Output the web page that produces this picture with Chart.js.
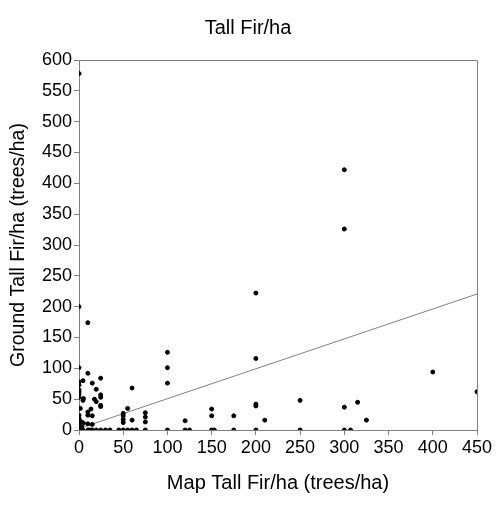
<!DOCTYPE html>
<html>
<head>
<meta charset="utf-8">
<script src="https://cdn.jsdelivr.net/npm/chart.js@4.4.0/dist/chart.umd.min.js"></script>
<style>
  html, body { margin: 0; padding: 0; background: #fff; }
  #wrap { width: 496px; height: 505px; }
</style>
</head>
<body>
<div id="wrap"><canvas id="scatter-chart"></canvas></div>
<script>
// map value (x) and ground value (y) for each plot
var mapValues = [
    0, 0, 0, 0, 0, 0, 0, 0, 0, 0, 0, 0, 0, 0, 0, 0,
    1.5, 3, 3, 4.5, 4.5, 4.5, 5, 5,
    10, 10, 10, 10, 10, 10, 12, 13.5,
    15, 15, 15, 15, 17.5, 19.5, 19.5, 19.5,
    24.5, 24.5, 24.5, 24.5, 24.5, 24.5, 30, 35, 45,
    50, 50, 50, 50, 50, 55, 55, 60, 60, 60, 65,
    75, 75, 75, 75, 100, 100, 100, 100,
    120, 120, 125, 150, 150, 150, 153, 175, 175,
    200, 200, 200, 200, 200, 210, 250, 250,
    300, 300, 300, 300, 307, 315, 325, 400, 450
];
var groundValues = [
    578, 200, 101, 78, 73, 65, 62, 58, 53, 24, 19, 16, 12, 9, 5, 0,
    35, 13, 5, 80, 48, 0, 51, 11,
    174, 92, 29, 24, 10, 0, 0, 34,
    76, 23, 9, 0, 50, 66, 46, 0,
    84, 57, 53, 40, 38, 0, 0, 0, 0,
    27, 23, 17, 12, 0, 35, 0, 68, 16, 0, 0,
    28, 21, 13, 0, 126, 101, 76, 0,
    15, 0, 0, 34, 23, 0, 0, 23, 0,
    222, 116, 42, 39, 0, 16, 48, 0,
    422, 326, 37, 0, 0, 45, 16, 94, 62
];
// fitted trend line end points
var trendX = [0, 450];
var trendY = [2.3, 220.5];

var xTicks = [0, 450, 50];
var yTicks = [0, 600, 50];

var points = mapValues.map(function (v, i) { return { x: v, y: groundValues[i] }; });
var trend = trendX.map(function (v, i) { return { x: v, y: trendY[i] }; });

Chart.defaults.font.family = "'Liberation Sans', Arial, sans-serif";
Chart.defaults.color = "#000";

// top and right edges of the plot frame
var plotBox = {
    id: 'plotBox',
    afterDraw: function (chart) {
        var a = chart.chartArea, ctx = chart.ctx;
        ctx.save();
        ctx.strokeStyle = "#808080";
        ctx.lineWidth = 1;
        ctx.beginPath();
        ctx.moveTo(a.left, a.top + 0.5);
        ctx.lineTo(a.right + 0.5, a.top + 0.5);
        ctx.lineTo(a.right + 0.5, a.bottom);
        ctx.stroke();
        ctx.restore();
    }
};

new Chart(document.getElementById("scatter-chart"), {
    type: 'scatter',
    data: {
        datasets: [{
            label: "Plots",
            data: points,
            backgroundColor: "#000",
            borderColor: "#000",
            pointRadius: 2,
            pointHoverRadius: 2
        }, {
            label: "Trend",
            type: "line",
            data: trend,
            borderColor: "#808080",
            borderWidth: 1,
            pointRadius: 0,
            fill: false
        }]
    },
    options: {
        responsive: true,
        maintainAspectRatio: false,
        animation: false,
        layout: { padding: 0 },
        plugins: {
            legend: { display: false },
            tooltip: { enabled: false },
            title: {
                display: true,
                text: 'Tall Fir/ha',
                color: "#000",
                font: { size: 20, weight: 'normal' },
                padding: { top: 16, bottom: 20 }
            }
        },
        scales: {
            x: {
                type: 'linear',
                min: xTicks[0],
                max: xTicks[1],
                ticks: { stepSize: xTicks[2], font: { size: 18 }, padding: 2, maxRotation: 0 },
                grid: { drawOnChartArea: false, tickLength: 5, color: "#808080" },
                border: { color: "#808080" },
                title: {
                    display: true,
                    text: 'Map Tall Fir/ha (trees/ha)',
                    font: { size: 20 },
                    padding: { top: 0, bottom: 10 }
                },
                afterFit: function (s) { s.height = 75; }
            },
            y: {
                type: 'linear',
                min: yTicks[0],
                max: yTicks[1],
                ticks: { stepSize: yTicks[2], font: { size: 18 }, padding: 2 },
                grid: { drawOnChartArea: false, tickLength: 5, color: "#808080" },
                border: { color: "#808080" },
                title: {
                    display: true,
                    text: 'Ground Tall Fir/ha (trees/ha)',
                    font: { size: 19.5 },
                    padding: { top: 7, bottom: 0 }
                },
                afterFit: function (s) { s.width = 79; }
            },
            y2: {
                type: 'linear',
                position: 'right',
                min: yTicks[0],
                max: yTicks[1],
                ticks: { display: false },
                grid: { display: false },
                border: { display: false },
                afterFit: function (s) { s.width = 19; }
            }
        }
    },
    plugins: [plotBox]
});
</script>
</body>
</html>
